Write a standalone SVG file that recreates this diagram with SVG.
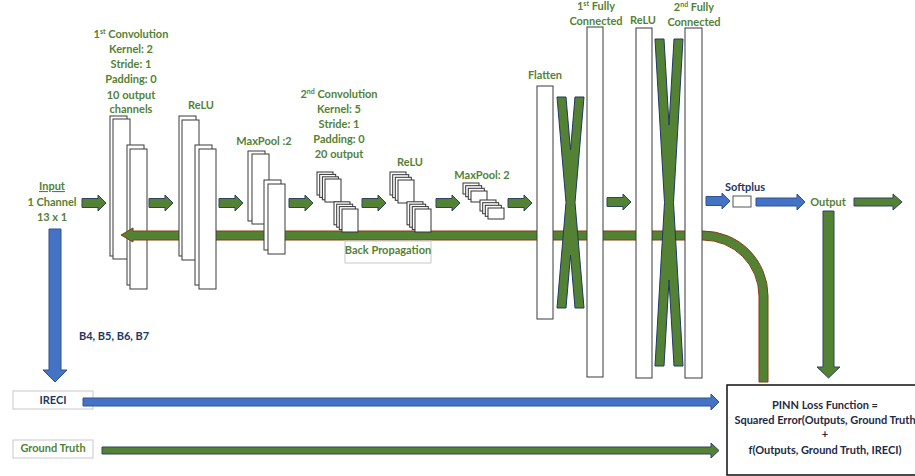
<svg xmlns="http://www.w3.org/2000/svg" xmlns:xlink="http://www.w3.org/1999/xlink" width="915" height="476" viewBox="0 0 915 476">
<style>
text{font-family:Lato,"Open Sans","Liberation Sans",sans-serif;font-weight:700;font-size:11px;text-anchor:middle}
.g{fill:#548235}
.n{fill:#203864}
.k{fill:#1f2a44}
.big{fill:#fff;stroke:#3a3a3a;stroke-width:1}
.sq{fill:#fff;stroke:#333;stroke-width:1}
.garr{fill:#548235;stroke:#2e4360;stroke-width:1}
.barr{fill:#4472c4;stroke:#2f528f;stroke-width:1}
.band{fill:#548235;stroke:#843c0c;stroke-width:1}
.xs{fill:#548235;stroke:#1f3864;stroke-width:1}
.lbox{fill:#fff;stroke:#c8c8c8;stroke-width:1}
sup{font-size:7px}
</style>
<defs>
<path id="ga" d="M0,-4.5 L16,-4.5 L16,-8 L24,0 L16,8 L16,4.5 L0,4.5 Z"/>
</defs>
<rect width="915" height="476" fill="#fff"/>

<!-- Input label -->
<g id="input">
<text class="g" x="52" y="190" text-decoration="underline">Input</text>
<text class="g" x="52" y="206">1 Channel</text>
<text class="g" x="52" y="221">13 x 1</text>
</g>

<!-- 1st convolution -->
<g id="conv1">
<text class="g" x="131" y="38">1<tspan font-size="7" dy="-4">st</tspan><tspan dy="4"> Convolution</tspan></text>
<text class="g" x="131" y="53">Kernel: 2</text>
<text class="g" x="131" y="68">Stride: 1</text>
<text class="g" x="131" y="83">Padding: 0</text>
<text class="g" x="131" y="99">10 output</text>
<text class="g" x="131" y="113">channels</text>
<rect class="big" x="110" y="116" width="17" height="140"/>
<rect class="big" x="113" y="119" width="17" height="140"/>
<rect class="big" x="127" y="145" width="17" height="140"/>
<rect class="big" x="130" y="149" width="17" height="140"/>
</g>

<!-- back propagation band -->
<g id="connectors-back">
<path class="band" d="M121,235 L133,228 L133,231 L703,231 A65,65 0 0 1 768,296 L768,382 L759,382 L759,296 A56,56 0 0 0 703,240 L133,240 L133,242 Z"/>
</g>

<g id="relu1">
<text class="g" x="201" y="109">ReLU</text>
<rect class="big" x="179" y="116" width="17" height="140"/>
<rect class="big" x="182" y="120" width="17" height="140"/>
<rect class="big" x="195" y="145" width="17" height="140"/>
<rect class="big" x="199" y="149" width="17" height="140"/>
</g>

<g id="maxpool1">
<text class="g" x="264" y="145">MaxPool :2</text>
<rect class="big" x="248" y="151" width="17" height="70"/>
<rect class="big" x="252" y="154" width="17" height="70"/>
<rect class="big" x="264" y="180" width="17" height="70"/>
<rect class="big" x="268" y="184" width="17" height="70"/>
</g>

<g id="conv2">
<text class="g" x="339" y="98">2<tspan font-size="7" dy="-4">nd</tspan><tspan dy="4"> Convolution</tspan></text>
<text class="g" x="339" y="113">Kernel: 5</text>
<text class="g" x="339" y="128">Stride: 1</text>
<text class="g" x="339" y="143">Padding: 0</text>
<text class="g" x="339" y="158">20 output</text>
<rect class="sq" x="317" y="172" width="16" height="23"/>
<rect class="sq" x="319.7" y="174.4" width="16" height="23"/>
<rect class="sq" x="322.4" y="176.8" width="16" height="23"/>
<rect class="sq" x="325" y="179" width="16" height="23"/>
<rect class="sq" x="334" y="201.8" width="16" height="23"/>
<rect class="sq" x="336.7" y="204.2" width="16" height="23"/>
<rect class="sq" x="339.3" y="206.6" width="16" height="23"/>
<rect class="sq" x="342" y="209" width="16" height="23"/>
</g>

<g id="relu2">
<text class="g" x="410" y="166">ReLU</text>
<rect class="sq" x="390" y="172" width="16" height="23"/>
<rect class="sq" x="392.7" y="174.7" width="16" height="23"/>
<rect class="sq" x="395.3" y="177.3" width="16" height="23"/>
<rect class="sq" x="398" y="180" width="16" height="23"/>
<rect class="sq" x="407" y="201.8" width="16" height="23"/>
<rect class="sq" x="409.7" y="204.2" width="16" height="23"/>
<rect class="sq" x="412.3" y="206.6" width="16" height="23"/>
<rect class="sq" x="415" y="209" width="16" height="23"/>
</g>

<g id="maxpool2">
<text class="g" x="482" y="179">MaxPool: 2</text>
<rect class="sq" x="463" y="183" width="16" height="11"/>
<rect class="sq" x="465.7" y="185.7" width="16" height="11"/>
<rect class="sq" x="468.3" y="188.3" width="16" height="11"/>
<rect class="sq" x="471" y="191" width="16" height="11"/>
<rect class="sq" x="480" y="200" width="16" height="11"/>
<rect class="sq" x="482.7" y="202.7" width="16" height="11"/>
<rect class="sq" x="485.3" y="205.3" width="16" height="11"/>
<rect class="sq" x="488" y="208" width="16" height="11"/>
</g>

<g id="backprop-label">
<rect class="lbox" x="345" y="241" width="86" height="22"/>
<text class="g" x="388" y="254">Back Propagation</text>
</g>

<g id="flatten">
<text class="g" x="545" y="79">Flatten</text>
<rect class="big" x="537" y="86" width="16" height="233"/>
</g>

<g id="fc1">
<text class="g" x="596" y="10">1<tspan font-size="7" dy="-4">st</tspan><tspan dy="4"> Fully</tspan></text>
<text class="g" x="596" y="25">Connected</text>
<rect class="big" x="587" y="27" width="16" height="350"/>
</g>

<g id="relu3">
<text class="g" x="643" y="24">ReLU</text>
<rect class="big" x="636" y="28" width="16" height="350"/>
</g>

<g id="fc2">
<text class="g" x="694" y="11">2<tspan font-size="7" dy="-4">nd</tspan><tspan dy="4"> Fully</tspan></text>
<text class="g" x="694" y="26">Connected</text>
<rect class="big" x="685" y="28" width="17" height="350"/>
</g>

<g id="softplus">
<text class="n" x="745" y="191">Softplus</text>
<rect x="733" y="196" width="18" height="11" fill="#fff" stroke="#555" stroke-width="1"/>
</g>

<g id="output">
<text class="g" x="828" y="206">Output</text>
</g>

<g id="bands">
<text class="n" x="79" y="340" style="text-anchor:start">B4, B5, B6, B7</text>
</g>

<g id="ireci">
<rect class="lbox" x="13" y="391" width="80" height="18"/>
<text class="n" x="53" y="404">IRECI</text>
</g>

<g id="ground-truth">
<rect class="lbox" x="13" y="440" width="80" height="18"/>
<text class="g" x="53" y="452">Ground Truth</text>
</g>

<g id="loss">
<rect x="727" y="385" width="200" height="90" fill="#fff" stroke="#111" stroke-width="1.5"/>
<text class="k" x="825" y="409">PINN Loss Function =</text>
<text class="k" x="825" y="424">Squared Error(Outputs, Ground Truth</text>
<text class="k" x="825" y="438">+</text>
<text class="k" x="825" y="454">f(Outputs, Ground Truth, IRECI)</text>
</g>

<g id="connectors">
<use xlink:href="#ga" class="garr" transform="translate(82,203)"/>
<use xlink:href="#ga" class="garr" transform="translate(149,203)"/>
<use xlink:href="#ga" class="garr" transform="translate(219,203)"/>
<use xlink:href="#ga" class="garr" transform="translate(289,203)"/>
<use xlink:href="#ga" class="garr" transform="translate(362,203)"/>
<use xlink:href="#ga" class="garr" transform="translate(436,203)"/>
<use xlink:href="#ga" class="garr" transform="translate(508,203)"/>
<use xlink:href="#ga" class="garr" transform="translate(607,202)"/>
<use xlink:href="#ga" class="barr" transform="translate(706,201)"/>
<path class="barr" d="M756,198 L797,198 L797,194 L805,202 L797,210 L797,206 L756,206 Z"/>
<path class="garr" d="M854,198 L893,198 L893,194 L902,202 L893,210 L893,206 L854,206 Z"/>
<path class="garr" d="M823,211 L834,211 L834,367 L840,367 L828.5,378 L817,367 L823,367 Z"/>
<path class="xs" d="M557,97 L566,97 L570.5,150 L575,97 L584,97 L575,202.5 L584,308 L575,308 L570.5,255 L566,308 L557,308 L566,202.5 Z"/>
<path class="xs" d="M655,39 L664,39 L669,125 L674,39 L683,39 L673.5,202.5 L683,366 L674,366 L669,280 L664,366 L655,366 L664.5,202.5 Z"/>
<path class="barr" d="M49,229 L61,229 L61,370 L67,370 L55,382 L43,370 L49,370 Z"/>
<path class="barr" d="M83,398 L711,398 L711,394 L719,402 L711,410 L711,406 L83,406 Z"/>
<path class="garr" d="M102,447 L711,447 L711,443 L719,450.5 L711,458 L711,454 L102,454 Z"/>
</g>
</svg>
